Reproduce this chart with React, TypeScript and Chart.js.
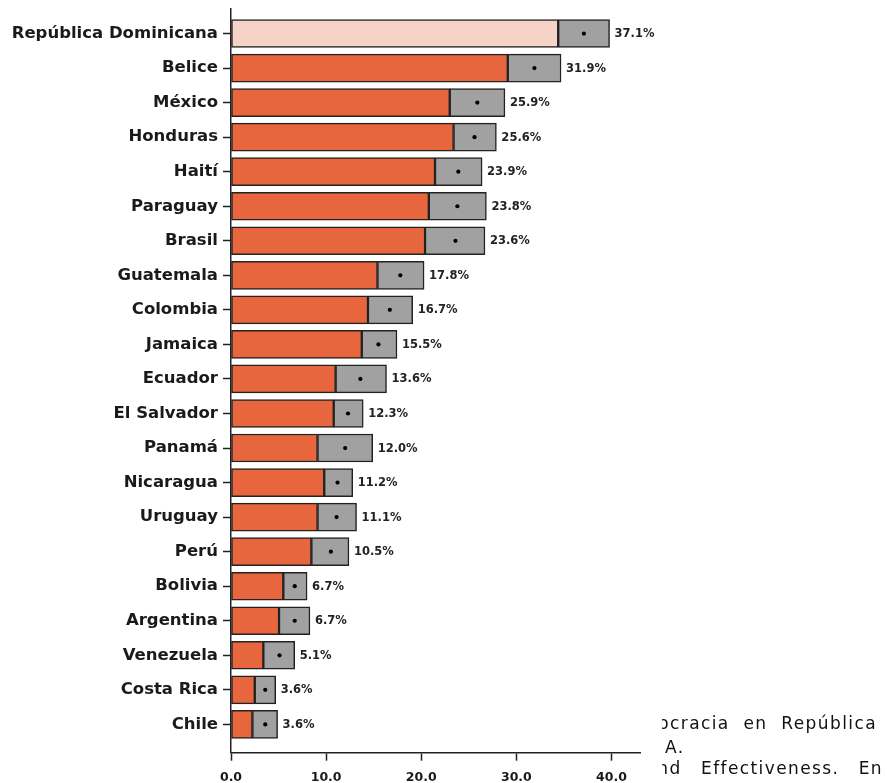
import React, { useEffect, useRef } from 'react';
import { Chart, registerables } from 'chart.js';

Chart.register(...registerables);

const countries = [
  'República Dominicana', 'Belice', 'México', 'Honduras', 'Haití', 'Paraguay', 'Brasil',
  'Guatemala', 'Colombia', 'Jamaica', 'Ecuador', 'El Salvador', 'Panamá', 'Nicaragua',
  'Uruguay', 'Perú', 'Bolivia', 'Argentina', 'Venezuela', 'Costa Rica', 'Chile',
];
const values = [37.1, 31.9, 25.9, 25.6, 23.9, 23.8, 23.6, 17.8, 16.7, 15.5, 13.6, 12.3, 12.0, 11.2, 11.1, 10.5, 6.7, 6.7, 5.1, 3.6, 3.6];
const lower = [34.4, 29.1, 23.0, 23.4, 21.45, 20.8, 20.4, 15.4, 14.4, 13.75, 11.0, 10.8, 9.1, 9.8, 9.1, 8.45, 5.5, 5.05, 3.4, 2.5, 2.25];
const upper = [39.8, 34.7, 28.8, 27.9, 26.4, 26.85, 26.7, 20.3, 19.1, 17.45, 16.35, 13.9, 14.9, 12.8, 13.2, 12.4, 8.0, 8.3, 6.7, 4.7, 4.9];
const xTickValues = [0, 10, 20, 30, 40];
const textLines = ['ocracia en República', 'A.', 'nd Effectiveness. En'];

const ORANGE = '#E8663E';
const PINK = '#F6D3C6';
const GRAY = '#A1A1A1';
const EDGE = '#222222';
const FONT = '"DejaVu Sans"';

export default function App() {
  const ref = useRef<HTMLCanvasElement>(null);

  useEffect(() => {
    const canvas = ref.current;
    if (!canvas) return;

    const valueLabels = {
      id: 'valueLabels',
      afterDatasetsDraw(chart: any) {
        const c = chart.ctx;
        const xs = chart.scales.x;
        const ys = chart.scales.y;
        c.save();
        c.font = `bold 11.5px ${FONT}`;
        c.fillStyle = '#222';
        c.textBaseline = 'middle';
        c.textAlign = 'left';
        values.forEach((v, i) => {
          c.fillText(`${v.toFixed(1)}%`, xs.getPixelForValue(upper[i]) + 5, ys.getPixelForValue(i) + 0.5);
        });
        c.restore();
      },
    };

    const chart = new Chart(canvas, {
      type: 'bar',
      data: {
        datasets: [
          {
            type: 'scatter',
            label: 'estimación',
            data: values.map((v, i) => ({ x: v, y: i })),
            pointRadius: 2.1,
            pointBackgroundColor: '#000',
            pointBorderWidth: 0,
            order: 0,
          } as any,
          {
            label: 'inferior',
            data: lower.map((v, i) => ({ x: [0, v], y: i })),
            backgroundColor: lower.map((_, i) => (i === 0 ? PINK : ORANGE)),
            borderColor: EDGE,
            borderWidth: 1.5,
            borderSkipped: false,
            barThickness: 28,
            grouped: false,
            order: 2,
          },
          {
            label: 'intervalo',
            data: lower.map((v, i) => ({ x: [v, upper[i]], y: i })),
            backgroundColor: GRAY,
            borderColor: EDGE,
            borderWidth: 1.5,
            borderSkipped: false,
            barThickness: 28,
            grouped: false,
            order: 1,
          },
        ],
      },
      options: {
        indexAxis: 'y',
        responsive: false,
        animation: false,
        layout: { padding: { top: 9, right: 247, left: 0, bottom: 0 } },
        plugins: { legend: { display: false }, tooltip: { enabled: false } },
        scales: {
          y: {
            type: 'linear',
            reverse: true,
            offset: false,
            min: -0.71,
            max: 20.82,
            afterBuildTicks: (s: any) => {
              s.ticks = countries.map((_, i) => ({ value: i }));
            },
            afterFit: (s: any) => {
              s.width = 231;
              s.paddingTop = 0;
              s.paddingBottom = 0;
            },
            ticks: {
              callback: (v: any) => countries[v] ?? '',
              font: { family: FONT, size: 16.5, weight: 'bold' },
              color: '#1a1a1a',
              padding: 5,
              autoSkip: false,
            },
            grid: { offset: false, drawOnChartArea: false, drawTicks: true, tickLength: 8, tickColor: EDGE, tickWidth: 1.5 },
            border: { display: true, color: EDGE, width: 1.5 },
          },
          x: {
            type: 'linear',
            min: 0,
            max: 43,
            afterBuildTicks: (s: any) => {
              s.ticks = xTickValues.map((v) => ({ value: v }));
            },
            afterFit: (s: any) => {
              s.height = 30.3;
              s.paddingLeft = 0;
              s.paddingRight = 0;
            },
            ticks: {
              callback: (v: any) => Number(v).toFixed(1),
              font: { family: FONT, size: 12.5, weight: 'bold' },
              color: '#1a1a1a',
              padding: 10,
              maxRotation: 0,
              autoSkip: false,
            },
            grid: { drawOnChartArea: false, drawTicks: true, tickLength: 8, tickColor: EDGE, tickWidth: 1.5 },
            border: { display: true, color: EDGE, width: 1.5 },
          },
        },
      } as any,
      plugins: [valueLabels],
    });

    return () => chart.destroy();
  }, []);

  const lineStyle: React.CSSProperties = {
    position: 'absolute',
    whiteSpace: 'nowrap',
    fontFamily: FONT,
    fontSize: '17px',
    lineHeight: '20px',
    letterSpacing: '1.4px',
    color: '#111',
  };

  return (
    <div style={{ position: 'absolute', left: 0, top: 0, width: 887, height: 783, background: '#fff' }}>
      <canvas ref={ref} width={887} height={783} style={{ position: 'absolute', left: 0, top: 0 }} />
      <div style={{ position: 'absolute', left: 662, top: 700, width: 225, height: 83, overflow: 'hidden' }}>
        <div style={{ ...lineStyle, right: 10, top: 13, wordSpacing: '7px' }}>{textLines[0]}</div>
        <div style={{ ...lineStyle, left: 3, top: 37.3 }}>{textLines[1]}</div>
        <div style={{ ...lineStyle, right: 4, top: 58.3, wordSpacing: '12.5px' }}>{textLines[2]}</div>
      </div>
    </div>
  );
}
